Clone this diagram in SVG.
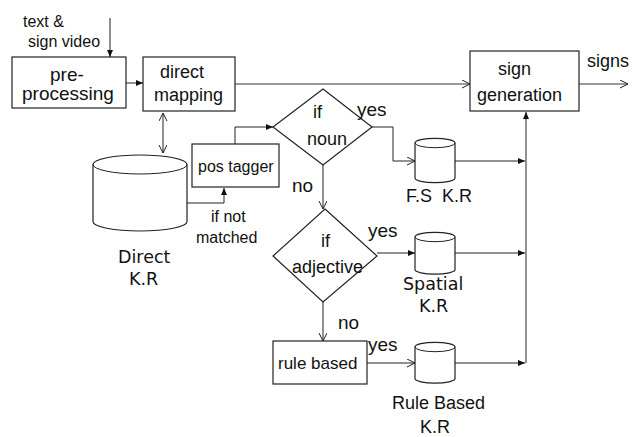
<svg xmlns="http://www.w3.org/2000/svg" width="634" height="437" viewBox="0 0 634 437">
<style>
.box{fill:#fff;stroke:#222;stroke-width:1.2}
.cyl{fill:#fff;stroke:#222;stroke-width:1.2}
.ln{fill:none;stroke:#222;stroke-width:1}
.gl{fill:none;stroke:#777;stroke-width:1.6}
.a{font-family:"Liberation Sans",Arial,sans-serif;fill:#111}
.d{font-family:"DejaVu Sans",Verdana,sans-serif;fill:#111}
</style>
<defs>
<marker id="open" markerWidth="10" markerHeight="10" refX="8" refY="4" orient="auto" markerUnits="userSpaceOnUse">
<path d="M0,0 L8,4 L0,8" fill="none" stroke="#222" stroke-width="1"/>
</marker>
<marker id="openS" markerWidth="10" markerHeight="10" refX="8" refY="4" orient="auto-start-reverse" markerUnits="userSpaceOnUse">
<path d="M0,0 L8,4 L0,8" fill="none" stroke="#222" stroke-width="1"/>
</marker>
<marker id="fill" markerWidth="10" markerHeight="10" refX="7" refY="3" orient="auto" markerUnits="userSpaceOnUse">
<path d="M0,0 L7,3 L0,6 Z" fill="#111"/>
</marker>
</defs>

<g id="connectors">
<line class="ln" x1="110" y1="18" x2="110" y2="57" marker-end="url(#fill)"/>
<line class="ln" x1="126" y1="83" x2="143" y2="83" marker-end="url(#fill)"/>
<line class="gl" x1="235" y1="84" x2="470" y2="84" marker-end="url(#open)"/>
<line class="gl" x1="579" y1="84" x2="628" y2="84" marker-end="url(#open)"/>
<line class="ln" x1="163" y1="113" x2="163" y2="153" marker-start="url(#openS)" marker-end="url(#openS)"/>
<polyline class="ln" points="187,203 224,203 224,188" marker-end="url(#fill)"/>
<polyline class="ln" points="235,144 235,127 273,127" marker-end="url(#fill)"/>
<polyline class="ln" points="372,127 393,127 393,161 415,161" marker-end="url(#open)"/>
<line class="ln" x1="323" y1="165" x2="323" y2="209" marker-end="url(#open)"/>
<line class="ln" x1="377" y1="253" x2="415" y2="253" marker-end="url(#fill)"/>
<line class="ln" x1="323" y1="302" x2="323" y2="341" marker-end="url(#open)"/>
<line class="ln" x1="367" y1="363" x2="415" y2="363" marker-end="url(#open)"/>
<line class="ln" x1="455" y1="161" x2="525" y2="161" marker-end="url(#fill)"/>
<line class="ln" x1="455" y1="253" x2="525" y2="253" marker-end="url(#fill)"/>
<line class="ln" x1="455" y1="363" x2="525" y2="363" marker-end="url(#fill)"/>
<line class="gl" x1="526" y1="363" x2="526" y2="112" marker-end="url(#fill)"/>
</g>

<g id="input-label">
<text class="a" x="23" y="27" font-size="16">text &amp;</text>
<text class="a" x="28" y="47" font-size="16">sign video</text>
</g>

<g id="preprocessing">
<rect class="box" x="12" y="57" width="114" height="51"/>
<text class="a" x="50" y="81" font-size="19">pre-</text>
<text class="a" x="22" y="100" font-size="19">processing</text>
</g>

<g id="direct-mapping">
<rect class="box" x="143" y="57" width="92" height="54"/>
<text class="a" x="160" y="78" font-size="18">direct</text>
<text class="a" x="154" y="101" font-size="18">mapping</text>
</g>

<g id="sign-generation">
<rect class="box" x="470" y="51" width="109" height="60"/>
<text class="a" x="498" y="75" font-size="18">sign</text>
<text class="a" x="477" y="101" font-size="18">generation</text>
</g>

<g id="signs-label">
<text class="a" x="587" y="67" font-size="18">signs</text>
</g>

<g id="direct-kr">
<path class="cyl" d="M93,164.5 A47,9.5 0 0 1 187,164.5 L187,221.5 A47,9.5 0 0 1 93,221.5 Z"/>
<path class="ln" d="M93,164.5 A47,9.5 0 0 0 187,164.5"/>
<text class="d" x="118" y="263" font-size="17.5">Direct</text>
<text class="d" x="129" y="285" font-size="17.5">K.R</text>
</g>

<g id="pos-tagger">
<rect class="box" x="192" y="144" width="87" height="43"/>
<text class="a" x="198" y="172" font-size="16">pos tagger</text>
</g>

<g id="not-matched-label">
<text class="a" x="211" y="222" font-size="16">if not</text>
<text class="a" x="196" y="243" font-size="16">matched</text>
</g>

<g id="if-noun">
<polygon class="box" points="323,89 372,127 323,165 273,127"/>
<text class="a" x="313" y="118" font-size="18">if</text>
<text class="a" x="307" y="145" font-size="18">noun</text>
<text class="a" x="357" y="116" font-size="19">yes</text>
<text class="a" x="292" y="192" font-size="19">no</text>
</g>

<g id="fs-kr">
<path class="cyl" d="M415,143 A20,4.7 0 0 1 455,143 L455,178 A20,4.7 0 0 1 415,178 Z"/>
<path class="ln" d="M415,143 A20,4.7 0 0 0 455,143"/>
<text class="a" x="406" y="202" font-size="18" word-spacing="5">F.S K.R</text>
</g>

<g id="if-adjective">
<polygon class="box" points="325,209 377,256 323,302 273,256"/>
<text class="a" x="321" y="247" font-size="18">if</text>
<text class="a" x="292" y="273" font-size="18">adjective</text>
<text class="a" x="368" y="237" font-size="19">yes</text>
<text class="a" x="338" y="329" font-size="19">no</text>
</g>

<g id="spatial-kr">
<path class="cyl" d="M415,237 A20,4.7 0 0 1 455,237 L455,269.5 A20,4.7 0 0 1 415,269.5 Z"/>
<path class="ln" d="M415,237 A20,4.7 0 0 0 455,237"/>
<text class="d" x="403" y="290" font-size="17.5">Spatial</text>
<text class="d" x="419" y="312" font-size="17.5">K.R</text>
</g>

<g id="rule-based">
<rect class="box" x="273" y="341" width="94" height="43"/>
<text class="a" x="278" y="369" font-size="17">rule based</text>
<text class="a" x="368" y="351" font-size="19">yes</text>
</g>

<g id="rule-based-kr">
<path class="cyl" d="M415,347 A20,4.7 0 0 1 455,347 L455,378.5 A20,4.7 0 0 1 415,378.5 Z"/>
<path class="ln" d="M415,347 A20,4.7 0 0 0 455,347"/>
<text class="a" x="392" y="409" font-size="18">Rule Based</text>
<text class="a" x="420" y="433" font-size="18">K.R</text>
</g>
</svg>
